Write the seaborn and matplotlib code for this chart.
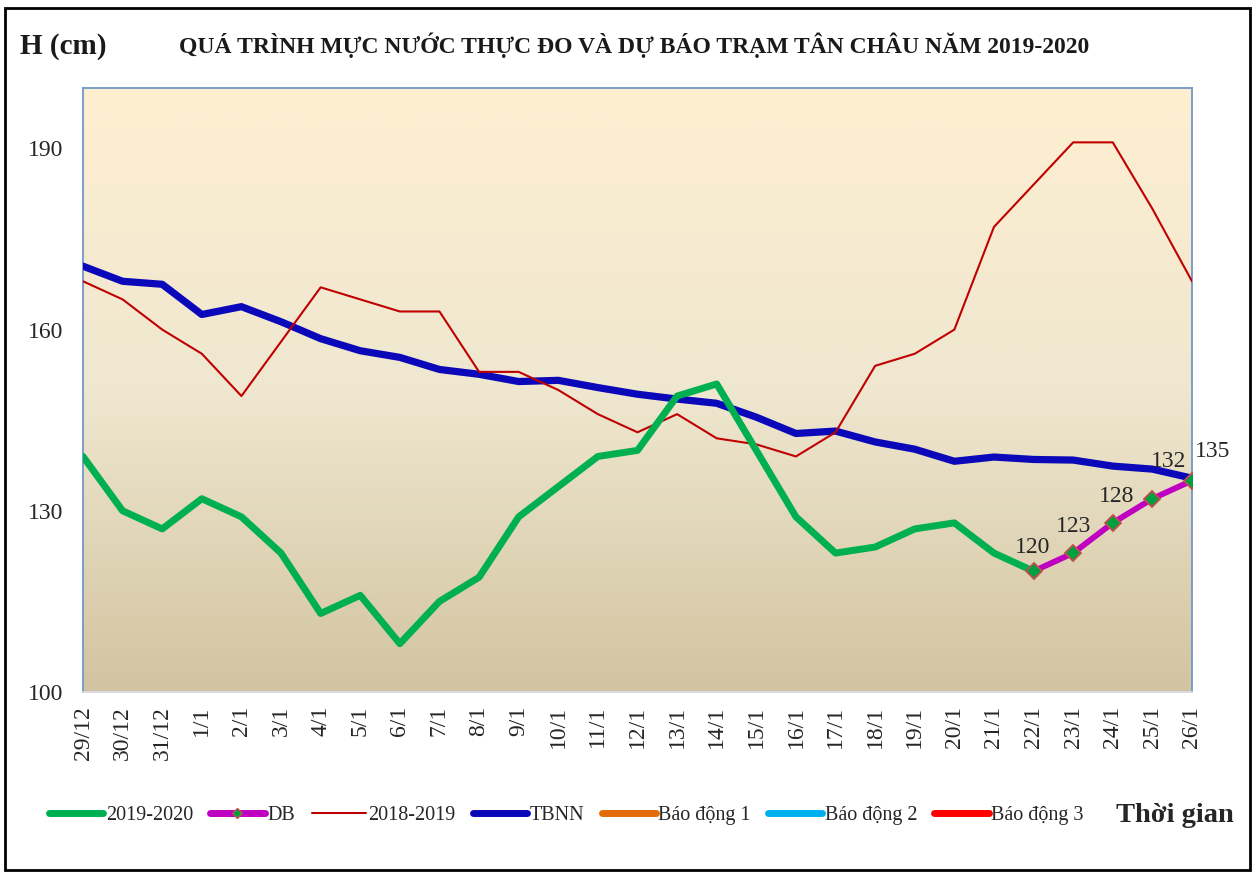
import numpy as np
import pandas as pd
import matplotlib
matplotlib.use("Agg")
import matplotlib.pyplot as plt
import seaborn as sns
from matplotlib.colors import LinearSegmentedColormap
from matplotlib.lines import Line2D
from matplotlib.patches import Rectangle

# ---------------- data ----------------
dates = ["29/12", "30/12", "31/12", "1/1", "2/1", "3/1", "4/1", "5/1", "6/1", "7/1",
         "8/1", "9/1", "10/1", "11/1", "12/1", "13/1", "14/1", "15/1", "16/1", "17/1",
         "18/1", "19/1", "20/1", "21/1", "22/1", "23/1", "24/1", "25/1", "26/1"]

h_2019_2020 = [139, 130, 127, 132, 129, 123, 113, 116, 108, 115,
               119, 129, 134, 139, 140, 149, 151, 140, 129, 123,
               124, 127, 128, 123, 120]

db_dates = ["22/1", "23/1", "24/1", "25/1", "26/1"]
db_values = [120, 123, 128, 132, 135]

h_2018_2019 = [168, 165, 160, 156, 149, 158, 167, 165, 163, 163,
               153, 153, 150, 146, 143, 146, 142, 141, 139, 143,
               154, 156, 160, 177, 184, 191, 191, 180, 168]

tbnn = [170.5, 168, 167.5, 162.5, 163.8, 161.3, 158.5, 156.5, 155.4, 153.4,
        152.6, 151.4, 151.6, 150.4, 149.3, 148.5, 147.8, 145.5, 142.8, 143.2,
        141.4, 140.2, 138.2, 138.9, 138.5, 138.4, 137.4, 136.9, 135.4]

yticks = [100, 130, 160, 190]

# ---------------- figure ----------------
sns.set_theme(style="white")
plt.rcParams["font.family"] = ["Liberation Serif", "DejaVu Serif"]

fig = plt.figure(figsize=(12.57, 8.72), dpi=100)
ax = fig.add_axes([83 / 1257, 1 - 692 / 872, (1192 - 83) / 1257, (692 - 88) / 872])

xpos = {d: i for i, d in enumerate(dates)}
df_a = pd.DataFrame({"x": [xpos[d] for d in dates[:len(h_2019_2020)]], "y": h_2019_2020})
df_b = pd.DataFrame({"x": [xpos[d] for d in db_dates], "y": db_values})
df_c = pd.DataFrame({"x": [xpos[d] for d in dates], "y": h_2018_2019})
df_d = pd.DataFrame({"x": [xpos[d] for d in dates], "y": tbnn})

ax.set_xlim(0, len(dates) - 1)
ax.set_ylim(100, 200)

# gradient background
cmap = LinearSegmentedColormap.from_list(
    "bg", [(0.0, "#D2C4A0"), (0.5, "#EFE7D0"), (1.0, "#FEEFD0")])
grad = np.linspace(0, 1, 256).reshape(-1, 1)
ax.imshow(grad, extent=[0, len(dates) - 1, 100, 200], aspect="auto",
          cmap=cmap, origin="lower", zorder=0)

common = dict(ax=ax, sort=False, estimator=None)
sns.lineplot(data=df_d, x="x", y="y", color="#0A08B8", linewidth=5.2,
             solid_capstyle="round", solid_joinstyle="round", zorder=3, **common)
sns.lineplot(data=df_c, x="x", y="y", color="#C00000", linewidth=1.5,
             solid_joinstyle="round", zorder=4, **common)
sns.lineplot(data=df_a, x="x", y="y", color="#00B050", linewidth=5.0,
             solid_capstyle="round", solid_joinstyle="round", zorder=5, **common)
sns.lineplot(data=df_b, x="x", y="y", color="#C000C0", linewidth=4.2,
             marker="D", markersize=8, markerfacecolor="#00A040",
             markeredgecolor="#C0504D", markeredgewidth=1.3,
             solid_joinstyle="round", zorder=6, **common)

# data labels for forecast
offsets = [(-1, 17), (0, 19), (3, 19), (11.5, 27), (15, 21)]
for d, v, off in zip(db_dates, db_values, offsets):
    ax.annotate(f"{v}", (xpos[d], v), xytext=off, textcoords="offset points",
                ha="center", va="center", fontsize=17, color="#262626",
                annotation_clip=False, zorder=7)

ax.set_xticks(range(len(dates)))
ax.set_xticklabels(dates, rotation=90, fontsize=17, color="#262626")
ax.set_yticks(yticks)
ax.set_yticklabels([str(t) for t in yticks], fontsize=17, color="#262626")
ax.tick_params(axis="y", length=0, pad=14)
ax.tick_params(axis="x", length=0, pad=10)
ax.set_xlabel("")
ax.set_ylabel("")
ax.grid(False)

for s in ["left", "top", "right"]:
    ax.spines[s].set_color("#6F98C8")
    ax.spines[s].set_linewidth(1.3)
ax.spines["bottom"].set_color("#D9D9E3")
ax.spines["bottom"].set_linewidth(1.3)

# legend
handles = [
    Line2D([], [], color="#00B050", lw=5, solid_capstyle="round"),
    Line2D([], [], color="#C000C0", lw=5, solid_capstyle="round", marker="D",
           markersize=5, markerfacecolor="#00A040", markeredgecolor="#C0504D"),
    Line2D([], [], color="#C00000", lw=1.5),
    Line2D([], [], color="#0A08B8", lw=5, solid_capstyle="round"),
    Line2D([], [], color="#E36C09", lw=5, solid_capstyle="round"),
    Line2D([], [], color="#00B0F0", lw=5, solid_capstyle="round"),
    Line2D([], [], color="#FF0000", lw=5, solid_capstyle="round"),
]
labels = ["2019-2020", "DB", "2018-2019", "TBNN", "Báo động 1", "Báo động 2", "Báo động 3"]
fig.legend(handles, labels, loc="center left", bbox_to_anchor=(49 / 1257, 1 - 815 / 872),
           ncol=7, frameon=False, fontsize=14.5, handlelength=2.7, handletextpad=0.12,
           columnspacing=0.85, borderaxespad=0, borderpad=0, labelcolor="#262626")

fig.text(1175 / 1257, 1 - 815 / 872, "Thời gian", ha="center", va="center",
         fontsize=20.5, fontweight="bold", color="#262626")
fig.text(20 / 1257, 1 - 47 / 872, "H (cm)", ha="left", va="center",
         fontsize=21, fontweight="bold", color="#1a1a1a")
fig.text(634 / 1257, 1 - 45 / 872,
         "QUÁ TRÌNH MỰC NƯỚC THỰC ĐO VÀ DỰ BÁO TRẠM TÂN CHÂU NĂM 2019-2020",
         ha="center", va="center", fontsize=17, fontweight="bold", color="#1a1a1a")

fig.patches.append(Rectangle((5 / 1257, 2 / 872), 1245 / 1257, 862 / 872,
                             transform=fig.transFigure, fill=False,
                             edgecolor="black", linewidth=2))

fig.savefig("out.png", dpi=100, facecolor="white")
